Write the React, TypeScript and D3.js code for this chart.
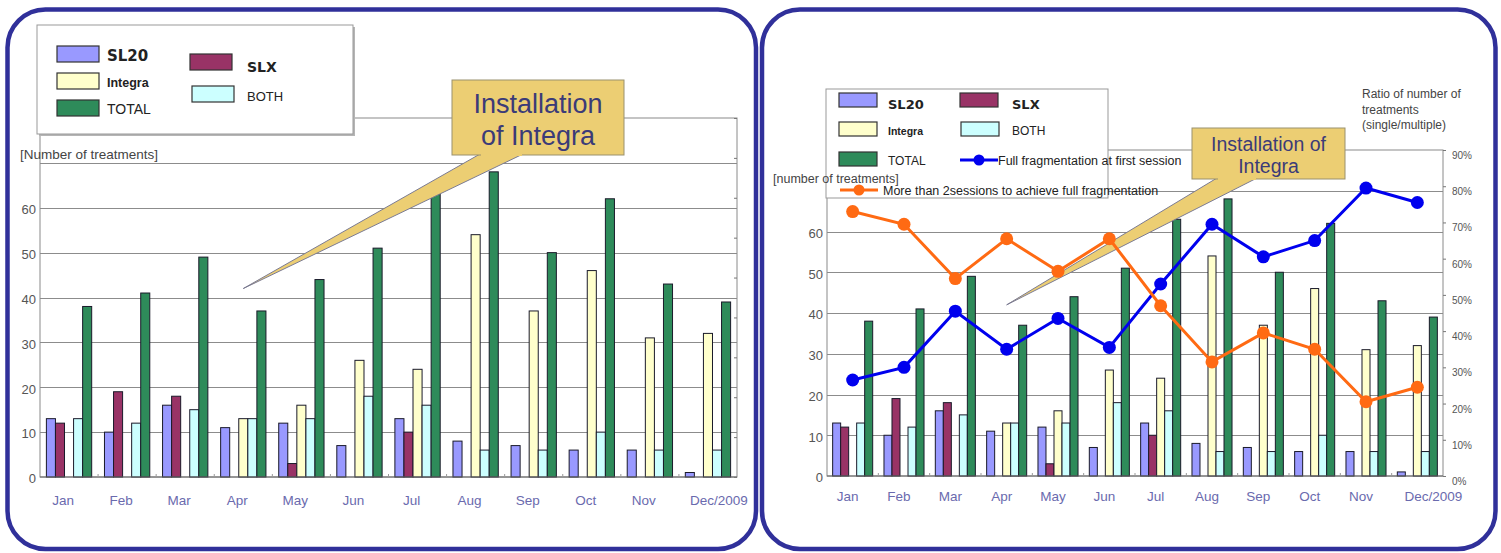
import * as d3 from "d3";
import { useEffect, useRef } from "react";

const months = ["Jan", "Feb", "Mar", "Apr", "May", "Jun", "Jul", "Aug", "Sep", "Oct", "Nov", "Dec/2009"];
const sl20 = [13, 10, 16, 11, 12, 7, 13, 8, 7, 6, 6, 1];
const slx = [12, 19, 18, 0, 3, 0, 10, 0, 0, 0, 0, 0];
const integra = [0, 0, 0, 13, 16, 26, 24, 54, 37, 46, 31, 32];
const both = [13, 12, 15, 13, 13, 18, 16, 6, 6, 10, 6, 6];
const total = [38, 41, 49, 37, 44, 51, 63, 68, 50, 62, 43, 39];
// ratio of treatments, in percent (right axis)
const fullFirst = [26.5, 30, 45.5, 35, 43.5, 35.5, 53, 69.5, 60.5, 65, 79.5, 75.5];
const multiSession = [73, 69.5, 54.5, 65.5, 56.5, 65.5, 47, 31.5, 39.5, 35, 20.5, 24.5];

const countTicks = [0, 10, 20, 30, 40, 50, 60];
const gridTicks = [10, 20, 30, 40, 50, 60, 70];
const ratioTicks = [0, 10, 20, 30, 40, 50, 60, 70, 80, 90];

const seriesNames = ["SL20", "SLX", "Integra", "BOTH", "TOTAL"];
const seriesData = [sl20, slx, integra, both, total];
const seriesColors = ["#9999ff", "#993366", "#ffffcc", "#ccffff", "#2e8b5a"];

const SANS = "'Liberation Sans', Arial, sans-serif";
const WIDE = "'DejaVu Sans', Verdana, sans-serif";
const BLUE = "#0000ee";
const ORANGE = "#ff6a13";
const GOLD = "#ecce73";

type LegendItem = {
  kind: "swatch" | "line";
  idx: number;
  x: number;
  y: number;
  label: string;
  lx: number;
  ly: number;
  font: string;
  bold?: boolean;
  size: number;
};

type Panel = {
  left: number;
  right: number;
  top: number;
  bottom: number;
  labelDx: number;
  lastDx: number;
  labelY: number;
  ratio: boolean;
  yTitle: { text: string; x: number; y: number; size: number };
  legend: { box: [number, number, number, number]; shadow: boolean; sw: number; sh: number; items: LegendItem[] };
  callout: { box: [number, number, number, number]; base: [number, number]; tipValue: number; lines: string[]; size: number; baselines: number[] };
};

const leftPanel: Panel = {
  left: 40,
  right: 737,
  top: 118,
  bottom: 477,
  labelDx: -6,
  lastDx: 11,
  labelY: 505,
  ratio: false,
  yTitle: { text: "[Number of treatments]", x: 20, y: 159, size: 13.5 },
  legend: {
    box: [37, 25, 316, 109],
    shadow: true,
    sw: 42,
    sh: 16,
    items: [
      { kind: "swatch", idx: 0, x: 57, y: 46, label: "SL20", lx: 107, ly: 61, font: WIDE, bold: true, size: 15 },
      { kind: "swatch", idx: 2, x: 57, y: 73, label: "Integra", lx: 107, ly: 87, font: SANS, bold: true, size: 12.5 },
      { kind: "swatch", idx: 4, x: 57, y: 100, label: "TOTAL", lx: 107, ly: 114, font: SANS, size: 14 },
      { kind: "swatch", idx: 1, x: 190, y: 54, label: "SLX", lx: 247, ly: 72, font: WIDE, bold: true, size: 14 },
      { kind: "swatch", idx: 3, x: 192, y: 86, label: "BOTH", lx: 247, ly: 101, font: SANS, size: 13 },
    ],
  },
  callout: { box: [452, 80, 172, 75], base: [480, 523], tipValue: 42, lines: ["Installation", "of Integra"], size: 27, baselines: [113, 145] },
};

const rightPanel: Panel = {
  left: 827,
  right: 1443,
  top: 150,
  bottom: 476,
  labelDx: -5,
  lastDx: 16,
  labelY: 501,
  ratio: true,
  yTitle: { text: "[number of treatments]", x: 773, y: 183, size: 12.5 },
  legend: {
    box: [826, 89, 282, 109],
    shadow: false,
    sw: 38,
    sh: 14,
    items: [
      { kind: "swatch", idx: 0, x: 839, y: 93, label: "SL20", lx: 888, ly: 109, font: WIDE, bold: true, size: 13 },
      { kind: "swatch", idx: 1, x: 960, y: 93, label: "SLX", lx: 1012, ly: 109, font: WIDE, bold: true, size: 13 },
      { kind: "swatch", idx: 2, x: 839, y: 122, label: "Integra", lx: 888, ly: 135, font: SANS, bold: true, size: 10.5 },
      { kind: "swatch", idx: 3, x: 961, y: 122, label: "BOTH", lx: 1012, ly: 135, font: SANS, size: 12 },
      { kind: "swatch", idx: 4, x: 839, y: 152, label: "TOTAL", lx: 888, ly: 165, font: SANS, size: 12 },
      { kind: "line", idx: 0, x: 960, y: 160, label: "Full fragmentation at first session", lx: 998, ly: 165, font: SANS, size: 12.5 },
      { kind: "line", idx: 1, x: 840, y: 190, label: "More than 2sessions to achieve full fragmentation", lx: 883, ly: 195, font: SANS, size: 12.5 },
    ],
  },
  callout: { box: [1192, 128, 153, 51], base: [1217, 1257], tipValue: 42, lines: ["Installation of", "Integra"], size: 19.5, baselines: [151, 173] },
};

function drawPanel(svg: d3.Selection<SVGSVGElement, unknown, null, undefined>, p: Panel) {
  const g = svg.append("g");
  const x = d3.scaleBand<string>().domain(months).range([p.left, p.right]).paddingInner(0.22).paddingOuter(0.11);
  const sub = d3.scaleBand<string>().domain(seriesNames).range([0, x.bandwidth()]);
  const y = d3.scaleLinear().domain([0, 80]).range([p.bottom, p.top]);
  const r = d3.scaleLinear().domain([0, 90]).range([p.bottom, p.top]);
  const mid = (m: string) => (x(m) ?? 0) + x.bandwidth() / 2;

  // plot frame and grid
  g.append("rect")
    .attr("x", p.left)
    .attr("y", p.top)
    .attr("width", p.right - p.left)
    .attr("height", p.bottom - p.top)
    .attr("fill", "#fff")
    .attr("stroke", "#8a8a8a");
  g.append("g")
    .selectAll("line")
    .data(gridTicks)
    .join("line")
    .attr("x1", p.left)
    .attr("x2", p.right)
    .attr("y1", (d) => Math.round(y(d)) + 0.5)
    .attr("y2", (d) => Math.round(y(d)) + 0.5)
    .attr("stroke", "#8c8c8c");

  // bars
  g.append("g")
    .selectAll("g")
    .data(months)
    .join("g")
    .attr("transform", (m) => `translate(${x(m)},0)`)
    .selectAll("rect")
    .data((m, i) =>
      seriesNames.map((s, j) => ({ s, v: seriesData[j][i], c: seriesColors[j] })).filter((d) => d.v > 0)
    )
    .join("rect")
    .attr("x", (d) => sub(d.s) ?? 0)
    .attr("width", sub.bandwidth())
    .attr("y", (d) => y(d.v))
    .attr("height", (d) => p.bottom - y(d.v))
    .attr("fill", (d) => d.c)
    .attr("stroke", "#1a1a2a")
    .attr("stroke-width", 1);

  // baseline + small category ticks
  g.append("line")
    .attr("x1", p.left)
    .attr("x2", p.right)
    .attr("y1", p.bottom)
    .attr("y2", p.bottom)
    .attr("stroke", "#666");
  g.append("g")
    .selectAll("line")
    .data(d3.range(1, months.length))
    .join("line")
    .attr("x1", (k) => p.left + k * x.step())
    .attr("x2", (k) => p.left + k * x.step())
    .attr("y1", p.bottom)
    .attr("y2", p.bottom - 3)
    .attr("stroke", "#999");

  // left count axis labels
  g.append("g")
    .attr("transform", `translate(${p.left},0)`)
    .call(d3.axisLeft(y).tickValues(countTicks).tickSize(0).tickPadding(4))
    .call((a) => a.select(".domain").remove())
    .call((a) =>
      a.selectAll("text").attr("fill", "#555").attr("font-size", 13).attr("font-family", SANS).attr("dy", "0.45em")
    );

  // right ratio axis
  g.append("g")
    .attr("transform", `translate(${p.right},0)`)
    .call(
      d3
        .axisRight(r)
        .tickValues(ratioTicks)
        .tickSize(p.ratio ? 3 : -3)
        .tickPadding(6)
        .tickFormat((v) => (p.ratio ? `${v}%` : ""))
    )
    .call((a) => a.select(".domain").remove())
    .call((a) => a.selectAll("line").attr("stroke", "#777"))
    .call((a) =>
      a.selectAll("text").attr("fill", "#555").attr("font-size", 10).attr("font-family", SANS).attr("dy", "0.85em")
    );

  // month labels
  g.append("g")
    .selectAll("text")
    .data(months)
    .join("text")
    .attr("x", (m, i) => mid(m) + (i === months.length - 1 ? p.lastDx : p.labelDx))
    .attr("y", p.labelY)
    .attr("text-anchor", "middle")
    .attr("fill", "#6a6aae")
    .attr("font-size", 13.5)
    .attr("font-family", SANS)
    .text((m) => m);

  // callout
  const c = p.callout;
  const tip: [number, number] = [mid("Apr"), y(c.tipValue)];
  const by = c.box[1] + c.box[3];
  g.append("path")
    .attr("d", `M${c.base[0]},${by - 1}L${tip[0]},${tip[1]}L${c.base[1]},${by - 1}Z`)
    .attr("fill", GOLD)
    .attr("stroke", "#7b7b92")
    .attr("stroke-width", 1);
  g.append("rect")
    .attr("x", c.box[0])
    .attr("y", c.box[1])
    .attr("width", c.box[2])
    .attr("height", c.box[3])
    .attr("fill", GOLD)
    .attr("stroke", "#9a916e");
  g.append("path")
    .attr("d", `M${c.base[0] + 1},${by}L${c.base[1] - 1},${by}`)
    .attr("stroke", GOLD)
    .attr("stroke-width", 2);
  g.append("g")
    .selectAll("text")
    .data(c.lines)
    .join("text")
    .attr("x", c.box[0] + c.box[2] / 2)
    .attr("y", (_, i) => c.baselines[i])
    .attr("text-anchor", "middle")
    .attr("fill", "#3b3b78")
    .attr("font-size", c.size)
    .attr("font-family", SANS)
    .text((t) => t);

  // ratio lines
  if (p.ratio) {
    const lines = [
      { vals: fullFirst, color: BLUE },
      { vals: multiSession, color: ORANGE },
    ];
    lines.forEach((ln) => {
      const pts = months.map((m, i) => [mid(m), r(ln.vals[i])] as [number, number]);
      g.append("path")
        .datum(pts)
        .attr("d", d3.line())
        .attr("fill", "none")
        .attr("stroke", ln.color)
        .attr("stroke-width", 3);
      g.append("g")
        .selectAll("circle")
        .data(pts)
        .join("circle")
        .attr("cx", (d) => d[0])
        .attr("cy", (d) => d[1])
        .attr("r", 6.5)
        .attr("fill", ln.color);
    });
  }

  // legend
  const L = p.legend;
  if (L.shadow) {
    g.append("rect")
      .attr("x", L.box[0] + 2)
      .attr("y", L.box[1] + 2)
      .attr("width", L.box[2])
      .attr("height", L.box[3])
      .attr("fill", "#b5b5b5");
  }
  g.append("rect")
    .attr("x", L.box[0])
    .attr("y", L.box[1])
    .attr("width", L.box[2])
    .attr("height", L.box[3])
    .attr("fill", "#fff")
    .attr("stroke", "#999");
  const lineColors = [BLUE, ORANGE];
  L.items.forEach((it) => {
    if (it.kind === "swatch") {
      g.append("rect")
        .attr("x", it.x)
        .attr("y", it.y)
        .attr("width", L.sw)
        .attr("height", L.sh)
        .attr("fill", seriesColors[it.idx])
        .attr("stroke", "#333")
        .attr("stroke-width", 1.2);
    } else {
      g.append("line")
        .attr("x1", it.x)
        .attr("x2", it.x + 38)
        .attr("y1", it.y)
        .attr("y2", it.y)
        .attr("stroke", lineColors[it.idx])
        .attr("stroke-width", 3);
      g.append("circle")
        .attr("cx", it.x + 19)
        .attr("cy", it.y)
        .attr("r", 5.5)
        .attr("fill", lineColors[it.idx]);
    }
    g.append("text")
      .attr("x", it.lx)
      .attr("y", it.ly)
      .attr("fill", "#222")
      .attr("font-size", it.size)
      .attr("font-family", it.font)
      .attr("font-weight", it.bold ? "bold" : "normal")
      .text(it.label);
  });

  // y title
  g.append("text")
    .attr("x", p.yTitle.x)
    .attr("y", p.yTitle.y)
    .attr("fill", "#444")
    .attr("font-size", p.yTitle.size)
    .attr("font-family", SANS)
    .text(p.yTitle.text);

  if (p.ratio) {
    g.append("g")
      .selectAll("text")
      .data(["Ratio of number of", "treatments", "(single/multiple)"])
      .join("text")
      .attr("x", 1362)
      .attr("y", (_, i) => 98 + i * 15.5)
      .attr("fill", "#444")
      .attr("font-size", 12)
      .attr("font-family", SANS)
      .text((t) => t);
  }
}

export default function App() {
  const ref = useRef<SVGSVGElement>(null);

  useEffect(() => {
    if (!ref.current) return;
    const svg = d3.select(ref.current);
    svg.selectAll("*").remove();

    svg.append("rect").attr("width", 1501).attr("height", 553).attr("fill", "#fff");
    [
      [7.5, 9.5, 748.5, 539.5],
      [762, 9.5, 733.5, 539.5],
    ].forEach(([bx, by, bw, bh]) => {
      svg
        .append("rect")
        .attr("x", bx)
        .attr("y", by)
        .attr("width", bw)
        .attr("height", bh)
        .attr("rx", 38)
        .attr("fill", "#fff")
        .attr("stroke", "#30309a")
        .attr("stroke-width", 4.5);
    });

    drawPanel(svg, leftPanel);
    drawPanel(svg, rightPanel);
  }, []);

  return (
    <svg
      ref={ref}
      width={1501}
      height={553}
      style={{ position: "absolute", left: 0, top: 0 }}
      role="img"
      aria-label="Treatments per month and ratio of single/multiple sessions"
    />
  );
}
